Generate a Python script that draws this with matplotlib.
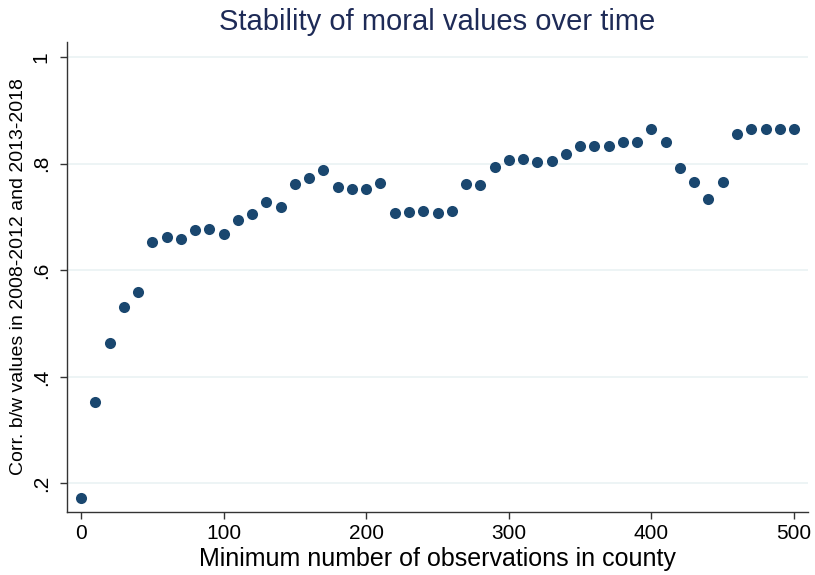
import numpy as np
import matplotlib
matplotlib.use("Agg")
import matplotlib.pyplot as plt

plt.rcParams['font.family'] = ['Liberation Sans', 'DejaVu Sans']

# minimum number of observations in county
min_obs = [0, 10, 20, 30, 40, 50, 60, 70, 80, 90,
           100, 110, 120, 130, 140, 150, 160, 170, 180, 190,
           200, 210, 220, 230, 240, 250, 260, 270, 280, 290,
           300, 310, 320, 330, 340, 350, 360, 370, 380, 390,
           400, 410, 420, 430, 440, 450, 460, 470, 480, 490, 500]
# correlation between 2008-2012 and 2013-2018 values
corr = [0.172, 0.353, 0.463, 0.531, 0.559, 0.653, 0.663, 0.658, 0.675, 0.678,
        0.668, 0.694, 0.706, 0.727, 0.718, 0.761, 0.773, 0.787, 0.756, 0.753,
        0.753, 0.764, 0.707, 0.709, 0.711, 0.708, 0.711, 0.761, 0.760, 0.793,
        0.807, 0.808, 0.803, 0.805, 0.817, 0.833, 0.833, 0.833, 0.841, 0.841,
        0.865, 0.841, 0.792, 0.765, 0.733, 0.765, 0.856, 0.864, 0.864, 0.864, 0.864]

yticks = [0.2, 0.4, 0.6, 0.8, 1.0]
ytick_labels = [".2", ".4", ".6", ".8", "1"]
xticks = [0, 100, 200, 300, 400, 500]

navy = '#1a476f'

fig = plt.figure(figsize=(8.15, 5.75), dpi=100)
ax = fig.add_axes([0.0826, 0.110, 0.9085, 0.817])

ax.plot(min_obs, corr, 'o', color=navy, markersize=8, markeredgewidth=0, zorder=3)

ax.set_xlim(-9.6, 509.6)
ax.set_ylim(0.147, 1.028)
ax.set_xticks(xticks)
ax.set_yticks(yticks)
ax.set_yticklabels(ytick_labels, rotation=90, va='center')
ax.tick_params(axis='both', labelsize=15, length=5, width=1, color='#333333', pad=4)
ax.tick_params(axis='y', pad=7)

ax.grid(axis='y', color='#eaf2f3', linewidth=1.2)
ax.set_axisbelow(True)
for s in ['top', 'right']:
    ax.spines[s].set_visible(False)
for s in ['left', 'bottom']:
    ax.spines[s].set_color('#333333')
    ax.spines[s].set_linewidth(1)

ax.set_xlabel("Minimum number of observations in county", fontsize=18, labelpad=3)
ax.set_ylabel("Corr. b/w values in 2008-2012 and 2013-2018", fontsize=14, labelpad=3)
fig.text(0.536, 0.962, "Stability of moral values over time", fontsize=21,
         color='#1e2b57', ha='center', va='center')

fig.savefig("out.png", dpi=100, facecolor='white')
